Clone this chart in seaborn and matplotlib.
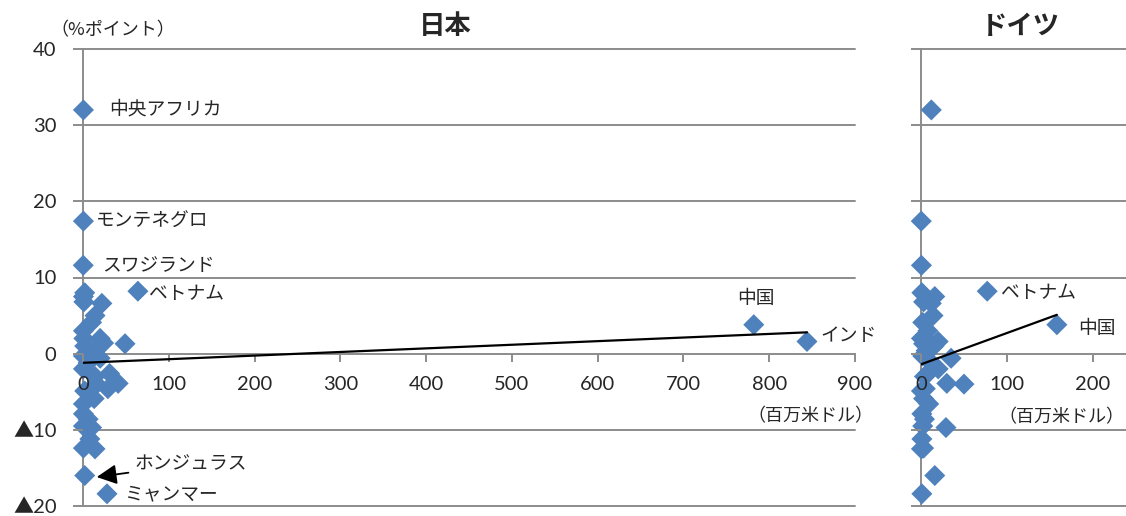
import matplotlib
matplotlib.use("Agg")
import matplotlib.pyplot as plt
import seaborn as sns
import pandas as pd

# Growth-rate gap (% points) against direct investment (million USD) by Japan and Germany
countries = ["中央アフリカ", "モンテネグロ", "スワジランド", "ベトナム", "中国", "インド",
             "ホンジュラス", "ミャンマー"] + [""] * 32
growth_gap = [32.0, 17.4, 11.6, 8.2, 3.8, 1.6, -16.0, -18.4,
              8.0, 7.5, 6.8, 6.6, 5.0, 4.1, 3.0, 2.0, 2.0, 1.4, 1.3, 1.0, 0.4,
              -0.3, -0.6, -1.2, -2.0, -2.6, -3.0, -3.9, -4.0, -4.6, -4.9, -5.9,
              -6.6, -7.9, -8.6, -9.5, -9.7, -11.2, -12.4, -12.5]
japan_fdi = [0.5, 0.5, 0.3, 64, 782, 844, 2, 28,
             2, 0.5, 1, 22, 14, 10, 0.5, 1, 20, 24, 49, 2, 10,
             0.5, 20, 6, 0.5, 31, 14, 41, 16, 29, 2, 13,
             0.5, 0.5, 6, 0.5, 10, 8, 0.5, 14]
germany_fdi = [12, 0.3, 0.5, 77, 158, 20, 16, 1,
               1, 16, 3, 12, 14, 2, 8, 4, 0.5, 10, 3, 15, 6,
               2, 35, 12, 20, 8, 4, 30, 50, 5, 0.5, 3,
               9, 1, 4, 2, 29, 1, 3, 0.5]

# Linear trend endpoints
japan_trend_x = [0, 844]
japan_trend_y = [-1.2, 2.8]
germany_trend_x = [0, 158]
germany_trend_y = [-1.4, 5.1]

y_ticks = [-20, -10, 0, 10, 20, 30, 40]
y_tick_labels = ["▲20", "▲10", "0", "10", "20", "30", "40"]
japan_x_ticks = [0, 100, 200, 300, 400, 500, 600, 700, 800, 900]
germany_x_ticks = [0, 100, 200]

df = pd.DataFrame({"country": countries, "gap": growth_gap,
                   "japan": japan_fdi, "germany": germany_fdi})

sns.set_style("white")
plt.rcParams["font.family"] = ["Noto Sans CJK JP", "DejaVu Sans"]
NUM_FONT = ["Lato", "Noto Sans CJK JP", "DejaVu Sans"]

BLUE = "#4F81BD"
GRID = "#8C8C8C"
W, H = 1126, 516

fig = plt.figure(figsize=(W / 100, H / 100), dpi=100)
ax_jp = fig.add_axes([83 / W, 1 - 506 / H, (855 - 83) / W, (506 - 49) / H])
ax_de = fig.add_axes([921 / W, 1 - 506 / H, (1126 - 921) / W, (506 - 49) / H])


def style_axes(ax, xmax, xticks, show_ylabels):
    ax.set_xlim(0, xmax)
    ax.set_ylim(-20, 40)
    ax.set_axisbelow(False)
    for yv in y_ticks:
        if yv != 0:
            ax.axhline(yv, color=GRID, lw=1.4, zorder=0.5, clip_on=False)
    for side in ["top", "right"]:
        ax.spines[side].set_visible(False)
    ax.spines["bottom"].set_position(("data", 0))
    for side in ["bottom", "left"]:
        ax.spines[side].set_color(GRID)
        ax.spines[side].set_linewidth(1.4)
        ax.spines[side].set_zorder(0.6)
    ax.set_yticks(y_ticks)
    ax.set_xticks(xticks)
    ax.set_xticklabels([str(t) for t in xticks], family=NUM_FONT)
    if show_ylabels:
        ax.set_yticklabels(y_tick_labels, family=NUM_FONT)
    else:
        ax.set_yticklabels([])
    ax.tick_params(axis="y", direction="out", length=7, width=1.4, color=GRID,
                   labelsize=14.5, pad=12, left=True)
    ax.tick_params(axis="x", direction="out", length=6, width=1.4, color=GRID,
                   labelsize=14.5, pad=10, bottom=True)
    ax.set_xlabel("")
    ax.set_ylabel("")


sns.scatterplot(data=df, x="japan", y="gap", ax=ax_jp, marker="D", s=115,
                color=BLUE, edgecolor="none", zorder=1, clip_on=False)
sns.scatterplot(data=df, x="germany", y="gap", ax=ax_de, marker="D", s=115,
                color=BLUE, edgecolor="none", zorder=1, clip_on=False)
sns.lineplot(x=japan_trend_x, y=japan_trend_y, ax=ax_jp, color="black", lw=1.6, zorder=3)
sns.lineplot(x=germany_trend_x, y=germany_trend_y, ax=ax_de, color="black", lw=1.6, zorder=3)

style_axes(ax_jp, 900, japan_x_ticks, True)
style_axes(ax_de, 205 / 0.86, germany_x_ticks, False)

lab = dict(fontsize=13.5, va="center", zorder=4)
ax_jp.text(31, 32.1, "中央アフリカ", ha="left", **lab)
ax_jp.text(15, 17.4, "モンテネグロ", ha="left", **lab)
ax_jp.text(22, 11.6, "スワジランド", ha="left", **lab)
ax_jp.text(77, 7.9, "ベトナム", ha="left", **lab)
ax_jp.text(784, 7.3, "中国", ha="center", **lab)
ax_jp.text(860, 2.4, "インド", ha="left", **lab)
ax_jp.text(48, -18.4, "ミャンマー", ha="left", **lab)
ax_jp.annotate("ホンジュラス", xy=(16, -16.2), xytext=(60, -14.5), ha="left",
               va="center", fontsize=13.5, zorder=4,
               arrowprops=dict(arrowstyle="-|>,head_length=0.9,head_width=0.45",
                               color="black", lw=1.3, shrinkA=2, shrinkB=0))
ax_de.text(93, 8.0, "ベトナム", ha="left", **lab)
ax_de.text(183, 3.3, "中国", ha="left", **lab)

ax_jp.text(922, -8.2, "（百万米ドル）", ha="right", va="center", fontsize=13,
           clip_on=False)
ax_de.text(236, -8.4, "（百万米ドル）", ha="right", va="center", fontsize=13,
           clip_on=False)

fig.text(113 / W, 1 - 30 / H, "（%ポイント）", ha="center", va="center", fontsize=13)
fig.text(445 / W, 1 - 27 / H, "日本", ha="center", va="center", fontsize=19,
         fontweight="bold")
fig.text(1020 / W, 1 - 27 / H, "ドイツ", ha="center", va="center", fontsize=19,
         fontweight="bold")

fig.savefig("out.png", dpi=100)
